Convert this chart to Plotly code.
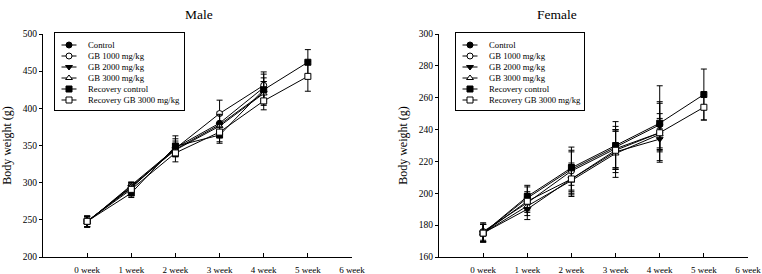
import plotly.graph_objects as go

weeks = [0, 1, 2, 3, 4, 5]
week_labels = ["0 week", "1 week", "2 week", "3 week", "4 week", "5 week", "6 week"]
series_names = ["Control", "GB 1000 mg/kg", "GB 2000 mg/kg", "GB 3000 mg/kg",
                "Recovery control", "Recovery GB 3000 mg/kg"]

# Male body weight (g) and SD
male_control = [248, 293, 347, 380, 428]
male_gb1000 = [247, 296, 346, 393, 431]
male_gb2000 = [248, 294, 345, 378, 421]
male_gb3000 = [247, 295, 344, 376, 420]
male_rec_control = [248, 286, 349, 364, 425, 462]
male_rec_gb3000 = [248, 291, 340, 368, 410, 443]

male_control_sd = [7, 6, 12, 15, 18]
male_gb1000_sd = [7, 5, 10, 18, 18]
male_gb2000_sd = [7, 6, 8, 14, 15]
male_gb3000_sd = [7, 5, 9, 15, 16]
male_rec_control_sd = [7, 6, 14, 11, 16, 17]
male_rec_gb3000_sd = [7, 6, 12, 13, 12, 20]

# Female body weight (g) and SD
female_control = [175, 197, 215, 229, 243]
female_gb1000 = [176, 194, 214, 228, 238]
female_gb2000 = [175, 190, 209, 226, 234]
female_gb3000 = [175, 192, 208, 225, 237]
female_rec_control = [175, 198, 216, 230, 244, 262]
female_rec_gb3000 = [175, 195, 209, 227, 238, 254]

female_control_sd = [5.5, 7, 14, 13, 14.5]
female_gb1000_sd = [5.5, 6, 12, 12, 18.5]
female_gb2000_sd = [5.5, 6.5, 9, 13, 6.5]
female_gb3000_sd = [5.5, 6, 10, 15, 10]
female_rec_control_sd = [5.5, 7, 11, 15, 23.5, 16]
female_rec_gb3000_sd = [5.5, 6, 10, 12, 12, 8]

symbols = ["circle", "circle-open", "triangle-down", "triangle-up-open", "square", "square-open"]

male = [(male_control, male_control_sd), (male_gb1000, male_gb1000_sd),
        (male_gb2000, male_gb2000_sd), (male_gb3000, male_gb3000_sd),
        (male_rec_control, male_rec_control_sd), (male_rec_gb3000, male_rec_gb3000_sd)]
female = [(female_control, female_control_sd), (female_gb1000, female_gb1000_sd),
          (female_gb2000, female_gb2000_sd), (female_gb3000, female_gb3000_sd),
          (female_rec_control, female_rec_control_sd), (female_rec_gb3000, female_rec_gb3000_sd)]

FONT = "Liberation Serif"
W, H = 762, 274
fig = go.Figure()


def marker_style(sym, size=6):
    is_open = sym.endswith("-open")
    return dict(symbol=sym.replace("-open", "") if is_open else sym, size=size,
                color="white" if is_open else "black",
                line=dict(color="black", width=1))


def add_traces(data, xa, ya):
    for name, sym, (vals, sd) in zip(series_names, symbols, data):
        fig.add_trace(go.Scatter(
            x=weeks[:len(vals)], y=vals, name=name, mode="lines+markers",
            xaxis=xa, yaxis=ya, showlegend=False,
            line=dict(color="black", width=1),
            marker=marker_style(sym),
            error_y=dict(type="data", array=sd, visible=True, color="black",
                         thickness=1, width=3),
        ))


add_traces(male, "x", "y")
add_traces(female, "x2", "y2")

# Boxed legends drawn on helper axes (one row per series)
KEY_X0, KEY_X1, KEY_M, TEXT_X = 6.5, 21.5, 14, 31
annotations = []
for xa, ya in (("x3", "y3"), ("x4", "y4")):
    for i, (name, sym) in enumerate(zip(series_names, symbols)):
        fig.add_trace(go.Scatter(x=[KEY_X0, KEY_X1], y=[i, i], mode="lines",
                                 xaxis=xa, yaxis=ya, showlegend=False, hoverinfo="skip",
                                 line=dict(color="black", width=1)))
        fig.add_trace(go.Scatter(x=[KEY_M], y=[i], mode="markers",
                                 xaxis=xa, yaxis=ya, showlegend=False, hoverinfo="skip",
                                 marker=marker_style(sym, 6)))
        annotations.append(dict(text=name, x=TEXT_X, y=i, xref=xa, yref=ya,
                                xanchor="left", yanchor="middle", showarrow=False,
                                font=dict(family=FONT, size=8.7, color="black")))

axis_common = dict(showline=True, linecolor="black", linewidth=1, showgrid=False,
                   zeroline=False, tickcolor="black", ticklen=4, tickwidth=1,
                   automargin=False)
xd1 = [43 / W, 352 / W]
xd2 = [439 / W, 748 / W]
yd = [(H - 257) / H, (H - 34) / H]
leg_y = [(H - 110) / H, (H - 33) / H]
leg_yrange = [(110 - 45) / 11, (33 - 45) / 11]
leg_axis = dict(showline=True, mirror=True, linecolor="black", linewidth=1,
                showgrid=False, zeroline=False, showticklabels=False, ticks="",
                automargin=False, fixedrange=True)

xt = dict(range=[-1, 6], tickvals=list(range(7)), ticktext=week_labels, ticks="inside",
          ticklabelstandoff=4, tickfont=dict(family=FONT, size=9, color="black"), **axis_common)
ytitle = dict(text="Body weight (g)", font=dict(family=FONT, size=12, color="black"), standoff=8)
yt = dict(ticks="outside", ticklen=3, tickfont=dict(family=FONT, size=9.5, color="black"),
          title=ytitle, **{k: v for k, v in axis_common.items() if k != "ticklen"})

fig.update_layout(
    width=W, height=H, margin=dict(l=0, r=0, t=0, b=0, autoexpand=False),
    paper_bgcolor="white", plot_bgcolor="rgba(0,0,0,0)",
    font=dict(family=FONT, color="black"),
    showlegend=False,
    xaxis=dict(domain=xd1, anchor="y", **xt),
    yaxis=dict(domain=yd, range=[200, 500], dtick=50, anchor="x", **yt),
    xaxis2=dict(domain=xd2, anchor="y2", **xt),
    yaxis2=dict(domain=yd, range=[160, 300], dtick=20, anchor="x2", **yt),
    xaxis3=dict(domain=[55 / W, 184 / W], range=[0, 129], anchor="y3", **leg_axis),
    yaxis3=dict(domain=leg_y, range=leg_yrange, anchor="x3", **leg_axis),
    xaxis4=dict(domain=[456 / W, 584 / W], range=[0, 128], anchor="y4", **leg_axis),
    yaxis4=dict(domain=leg_y, range=leg_yrange, anchor="x4", **leg_axis),
    annotations=annotations + [
        dict(text="Male", x=183 / W, y=(H - 15) / H, xref="paper", yref="paper",
             yanchor="middle", showarrow=False,
             font=dict(family=FONT, size=13.5, color="black")),
        dict(text="Female", x=579 / W, y=(H - 15) / H, xref="paper", yref="paper",
             yanchor="middle", showarrow=False,
             font=dict(family=FONT, size=13.5, color="black")),
    ],
)

fig.write_html("out.html", config={"displayModeBar": False},
               post_script="document.body.style.margin='0px';document.body.style.overflow='hidden';")
